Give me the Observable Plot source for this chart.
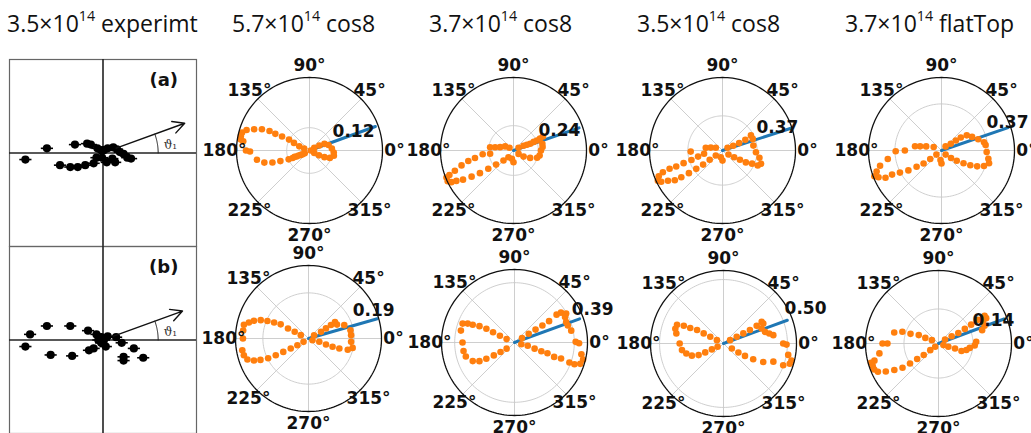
<!DOCTYPE html>
<html>
<head>
<meta charset="utf-8">
<script src="https://cdn.jsdelivr.net/npm/d3@7"></script>
<script src="https://cdn.jsdelivr.net/npm/@observablehq/plot@0.6"></script>
<style>
  body { margin: 0; background: #fff; }
  #fig { position: relative; width: 1031px; height: 433px; overflow: hidden; background: #fff; }
  .title { position: absolute; top: 7px; font-family: "Open Sans", sans-serif; font-size: 23px; white-space: nowrap; color: #111; }
  .title sup { font-size: 0.62em; vertical-align: 0.8em; line-height: 0; }
  .panel { position: absolute; overflow: visible; }
  .panel svg { max-width: none !important; }
</style>
</head>
<body>
<div id="fig"></div>
<script>
// ---------- column titles ----------
const titleMantissa = ["3.5", "5.7", "3.7", "3.5", "3.7"];
const titleExponent = ["14", "14", "14", "14", "14"];
const titleKind = ["experimt", "cos8", "cos8", "cos8", "flatTop"];

// ---------- measured momentum points (normalised px, py) ----------
const expA = [[-0.83,-0.07],[-0.60,0.05],[-0.30,0.09],[-0.17,0.10],[-0.13,0.09],[-0.06,0.05],[-0.02,0.03],
  [-0.46,-0.13],[-0.35,-0.15],[-0.27,-0.15],[-0.19,-0.13],[-0.10,-0.11],[-0.07,-0.05],[0.01,0.03],[0.05,0.05],
  [0.11,0.06],[0.15,0.04],[0.18,0.01],[0.22,-0.01],[0.26,-0.05],[0.30,-0.06],[0.10,-0.06],[0.13,-0.10],
  [0.04,-0.10],[-0.01,-0.05]];
const expB = [[-0.78,0.06],[-0.60,0.15],[-0.35,0.15],[-0.83,-0.07],[-0.56,-0.16],[-0.33,-0.17],[-0.16,0.10],
  [-0.07,0.06],[-0.15,-0.11],[-0.10,-0.09],[-0.02,0.03],[0.01,0.00],[-0.02,-0.03],[0.03,-0.07],[0.05,0.04],
  [0.14,0.03],[0.20,-0.03],[0.33,-0.09],[0.43,-0.19],[0.22,-0.18],[0.22,-0.22],[-0.05,0.00]];
const expXErr = [0.065, 0.065];
const expTheta = [20, 20];           // emission angle θ1 in degrees
const expArrowFrom = [0.15, 0.12];   // arrow start radius
const expArrowTo = [0.93, 0.905];    // arrow end radius
const expLetter = ["(a)", "(b)"];

// ---------- simulated angular distributions [angle°, yield] ----------
const a57cos8 = [[154,.091],[152,.122],[153,.162],[154,.200],[154,.234],[156,.274],[159,.312],[162,.348],[165,.367],
  [168,.369],[171,.366],[172,.352],[180,.334],[181,.313],[190,.281],[195,.246],[198,.205],[200,.163],[203,.119],
  [204,.097],[205,.075],[207,.051],[210,.029],[158,.058],[159,.030],[30,.029],[27,.058],[24,.086],[16,.104],
  [5,.118],[355,.128],[348,.131],[340,.114],[336,.086],[333,.056],[333,.028],[0,.007],[203,.085],[205,.063],[209,.041]];
const a37cos8 = [[188,.228],[187,.300],[191,.379],[193,.448],[196,.522],[199,.599],[201,.663],[202,.698],[205,.701],
  [207,.673],[208,.625],[210,.563],[212,.477],[214,.391],[216,.301],[219,.216],[225,.137],[233,.081],[172,.228],
  [170,.180],[166,.133],[154,.090],[146,.047],[259,.082],[270,.114],[28,.055],[25,.107],[22,.174],[23,.246],
  [25.5,.315],[13,.286],[0,.265],[349,.257],[343,.238],[336,.176],[329,.114],[326,.059],[23,.141],[23,.212],
  [24.5,.281],[7,.283]];
const a35cos8 = [[190,.200],[194,.269],[197,.347],[198,.437],[199,.523],[199,.598],[200,.678],[202,.735],[205,.762],
  [207,.735],[209,.666],[212,.601],[213,.525],[214,.433],[215,.342],[216,.256],[216,.169],[217,.090],[171,.181],
  [166,.129],[158,.077],[182,.340],[256,.074],[270,.108],[28,.061],[24,.125],[24,.195],[25,.269],[28,.344],
  [21,.346],[9,.334],[357,.358],[349,.402],[341,.436],[337,.409],[336,.346],[333,.280],[332,.211],[330,.144],[326,.077]];
const a37flat = [[156,.068],[165,.126],[169,.173],[171,.213],[180,.291],[181,.364],[189,.432],[194,.503],[198,.542],
  [201,.571],[203,.544],[206,.495],[206,.437],[208,.374],[211,.307],[213,.236],[216,.176],[217,.112],[219,.052],
  [264,.076],[270,.103],[45,.046],[36,.091],[35,.139],[34,.185],[31,.234],[24,.266],[17,.305],[11,.344],[7,.353],
  [358,.359],[350,.378],[345,.391],[340,.359],[336,.310],[333,.257],[330,.202],[326,.146],[322,.096],[315,.046]];
const b57cos8 = [[156.5,.035],[154,.064],[154,.095],[153,.130],[155,.158],[157,.186],[159,.213],[162,.239],[165,.257],
  [168,.275],[180,.273],[190,.280],[194.5,.278],[199,.269],[202,.245],[204,.219],[206,.187],[207,.153],[208,.119],
  [209.5,.085],[211,.054],[214,.025],[173,.274],[30.5,.027],[28,.059],[30,.084],[31,.109],[32,.130],[26,.132],
  [20.5,.159],[11,.178],[4.5,.178],[355.5,.178],[348,.188],[344,.170],[342,.135],[341,.106],[341,.077],[343,.047],[337,.018]];
const b37cos8 = [[156.5,.056],[155,.105],[154.5,.155],[154,.204],[155,.252],[157,.296],[158,.329],[160,.360],[167.5,.358],
  [180,.339],[189.5,.337],[196,.330],[204,.298],[208,.259],[210,.212],[212,.159],[214,.110],[218,.065],[30.6,.057],
  [31.8,.109],[31.5,.161],[31.4,.213],[31.7,.265],[33.5,.329],[32.7,.360],[29.2,.386],[26.7,.369],[21.5,.362],
  [17.7,.365],[11.8,.378],[0.6,.399],[359.4,.421],[350,.443],[346,.461],[342,.451],[340,.416],[340,.381],[341,.321],
  [340,.275],[342,.226],[342,.184],[343,.137],[346,.089],[346,.046]];
const b35cos8 = [[153,.058],[153,.116],[153,.174],[153,.232],[155,.287],[156,.340],[158,.392],[163,.394],[168,.377],
  [180,.343],[189,.329],[195,.301],[201,.265],[205,.215],[206,.159],[207,.102],[209,.053],[27,.058],[27,.116],
  [27,.174],[27,.232],[28,.294],[29.5,.343],[26.6,.348],[21.4,.320],[15.6,.337],[12.3,.366],[9.5,.395],[0,.467],
  [359,.493],[350,.514],[346,.548],[343,.542],[340,.497],[340,.415],[335,.343],[332,.263],[330,.194],[329,.136],[329,.076]];
const b37flat = [[153,.030],[157,.058],[157,.087],[161,.120],[162,.154],[166,.185],[180,.207],[180,.227],[189.5,.243],
  [195,.269],[196,.285],[199,.282],[202,.281],[205,.271],[208,.242],[211,.209],[214,.176],[215,.141],[216,.107],
  [218,.076],[219,.043],[225,.019],[31,.031],[29,.061],[28,.091],[29,.122],[30,.153],[31,.186],[31,.218],[28,.219],
  [27,.203],[21,.200],[17,.185],[2.5,.153],[357,.147],[352,.128],[347,.116],[342,.098],[343,.070],[342,.042],[342,.021]];

// per-panel radial axis and mean-direction values (top row a, then bottom row b)
const distributions = [a57cos8, a37cos8, a35cos8, a37flat, b57cos8, b37cos8, b35cos8, b37flat];
const radialTick = [0.12, 0.24, 0.37, 0.37, 0.19, 0.39, 0.50, 0.14];
const radialMax = [0.384, 0.705, 0.78, 0.58, 0.304, 0.476, 0.571, 0.296];
const meanAngle = [20, 19, 18, 19, 16, 20, 20, 20.5];
const meanLength = [0.369, 0.67, 0.77, 0.56, 0.298, 0.452, 0.531, 0.284];
const thetaTicks = [0, 45, 90, 135, 180, 225, 270, 315];

// ---------- layout ----------
const fig = document.getElementById("fig");
const titleLeft = [7, 232, 429, 637, 845];
const polarCenters = [[309,150],[513,150],[722,150],[941,150],[308,338],[514,342],[723,343],[938,342.5]];
const polarR = 73;          // outer circle radius in px
const polarBox = 240;       // svg size of each polar panel

titleMantissa.forEach((m, i) => {
  const d = document.createElement("div");
  d.className = "title";
  d.style.left = titleLeft[i] + "px";
  d.innerHTML = `${m}×10<sup>${titleExponent[i]}</sup> ${titleKind[i]}`;
  fig.appendChild(d);
});

function place(node, left, top, size) {
  const wrap = document.createElement("div");
  wrap.className = "panel";
  wrap.style.left = left + "px";
  wrap.style.top = top + "px";
  wrap.style.width = size + "px";
  wrap.style.height = size + "px";
  wrap.appendChild(node);
  fig.appendChild(wrap);
}

// ---------- experimental panels ----------
function expPanel(i, pts) {
  const th = expTheta[i] * Math.PI / 180;
  const arrow = [{x1: expArrowFrom[i] * Math.cos(th), y1: expArrowFrom[i] * Math.sin(th),
                  x2: expArrowTo[i] * Math.cos(th), y2: expArrowTo[i] * Math.sin(th)}];
  const arcR = 0.59;
  const arc = d3.range(0, expTheta[i] + 0.01, 1).map(t => [arcR * Math.cos(t * Math.PI / 180), arcR * Math.sin(t * Math.PI / 180)]);
  const err = expXErr[i];
  return Plot.plot({
    width: 189, height: 189, margin: 1,
    x: {domain: [-1, 1], axis: null},
    y: {domain: [-1, 1], axis: null},
    style: {background: "none", overflow: "visible", fontFamily: "DejaVu Sans", maxWidth: "none"},
    marks: [
      Plot.frame({stroke: "#666", strokeWidth: 1.2}),
      Plot.ruleX([0], {stroke: "#222", strokeWidth: 1.6}),
      Plot.ruleY([0], {stroke: "#222", strokeWidth: 1.6}),
      Plot.link(pts, {x1: d => d[0] - err, x2: d => d[0] + err, y1: d => d[1], y2: d => d[1], stroke: "#000", strokeWidth: 1.6}),
      Plot.dot(pts, {x: d => d[0], y: d => d[1], r: 4.1, fill: "#000"}),
      Plot.arrow(arrow, {x1: "x1", y1: "y1", x2: "x2", y2: "y2", stroke: "#111", strokeWidth: 1.4, headLength: 14, headAngle: 55}),
      Plot.line(arc, {x: d => d[0], y: d => d[1], stroke: "#222", strokeWidth: 1}),
      Plot.text([expLetter[i]], {x: 0.65, y: 0.78, text: d => d, fontSize: 18, fontWeight: "bold", fill: "#111"}),
      Plot.text(["ϑ₁"], {x: 0.72, y: 0.085, text: d => d, fontSize: 12, fontFamily: "DejaVu Serif", fill: "#333"})
    ]
  });
}
place(expPanel(0, expA), 8, 58, 189);
place(expPanel(1, expB), 8, 245, 189);

// ---------- polar panels ----------
const rad = t => t * Math.PI / 180;
function polarPanel(k) {
  const rmax = radialMax[k];
  const half = rmax * (polarBox / 2) / polarR;
  const xy = (t, r) => ({t, r, x: r * Math.cos(rad(t)), y: r * Math.sin(rad(t))});
  const ring = r => d3.range(0, 361, 2).map(t => xy(t, r));
  const spokes = thetaTicks.map(t => xy(t, rmax));
  const labels = thetaTicks.map(t => xy(t, rmax * 85 / polarR));
  const pts = distributions[k].map(([t, r]) => xy(t, r));
  const mean = [xy(meanAngle[k], 0), xy(meanAngle[k], meanLength[k])];
  const tick = [xy(22.5, radialTick[k])];
  return Plot.plot({
    width: polarBox, height: polarBox, margin: 0,
    x: {domain: [-half, half], axis: null},
    y: {domain: [-half, half], axis: null},
    style: {background: "none", overflow: "visible", fontFamily: "DejaVu Sans", maxWidth: "none"},
    marks: [
      Plot.link(spokes, {x1: () => 0, y1: () => 0, x2: "x", y2: "y", stroke: "#c8c8c8", strokeWidth: 0.9}),
      Plot.line(ring(radialTick[k]), {x: "x", y: "y", stroke: "#c8c8c8", strokeWidth: 0.9}),
      Plot.line(mean, {x: "x", y: "y", stroke: "#1f77b4", strokeWidth: 3}),
      Plot.dot(pts, {x: "x", y: "y", r: 3.3, fill: "#ff7f0e"}),
      Plot.line(ring(rmax), {x: "x", y: "y", stroke: "#111", strokeWidth: 1.3}),
      Plot.text(labels, {x: "x", y: "y", text: d => `${d.t}°`, fontSize: 17, fontWeight: "bold", fill: "#111"}),
      Plot.text(tick, {x: "x", y: "y", text: d => d.r.toFixed(2), fontSize: 17, fontWeight: "bold", fill: "#111",
                       textAnchor: "start", dx: 2, dy: -10})
    ]
  });
}
polarCenters.forEach(([cx, cy], k) => {
  place(polarPanel(k), cx - polarBox / 2, cy - polarBox / 2, polarBox);
});
</script>
</body>
</html>
